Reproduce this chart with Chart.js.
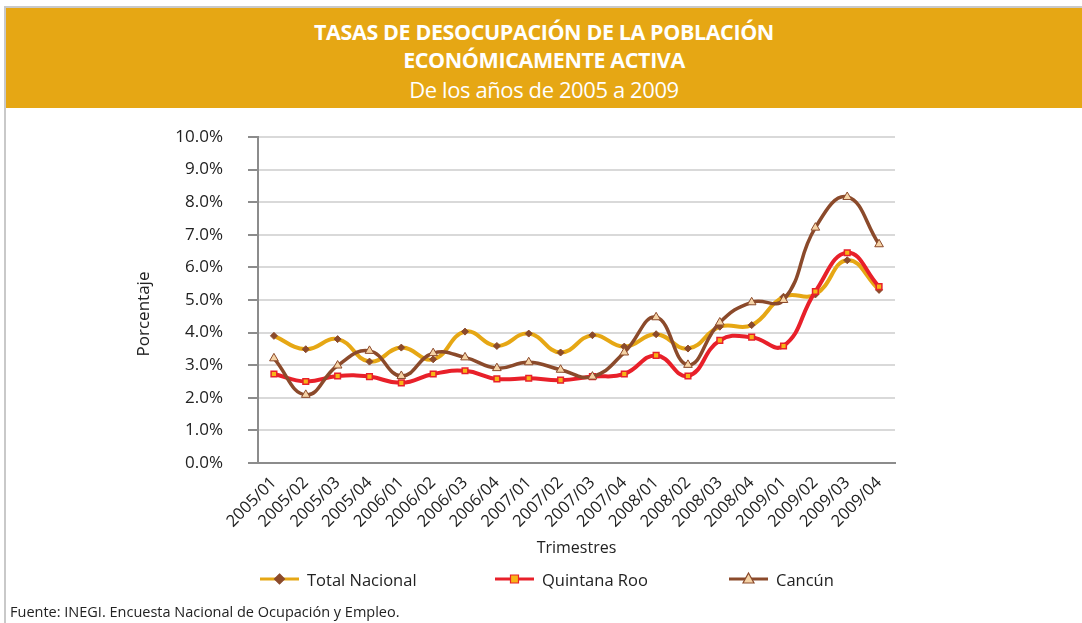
<!DOCTYPE html>
<html>
<head>
<meta charset="utf-8">
<script src="https://cdn.jsdelivr.net/npm/chart.js@4.4.1/dist/chart.umd.min.js"></script>
<style>
  html, body { margin:0; padding:0; background:#fff; }
  body { width:1082px; height:623px; position:relative; overflow:hidden; font-family:"Open Sans", sans-serif; }
  #frameTop { position:absolute; left:4px; top:6px; width:1078px; height:2px; background:#c9c9c9; }
  #frameLeft { position:absolute; left:4px; top:6px; width:2px; height:617px; background:#c9c9c9; }
  #header { position:absolute; left:6px; top:8px; width:1076px; height:100px; background:#E6A714; color:#fff; text-align:center; }
  #header .t1 { position:absolute; left:0; right:0; top:11px; font-weight:700; font-size:21.5px; line-height:26px; letter-spacing:-0.4px; }
  #header .t2 { position:absolute; left:0; right:0; top:39px; font-weight:700; font-size:21.5px; line-height:26px; letter-spacing:-0.4px; }
  #header .t3 { position:absolute; left:0; right:0; top:68px; font-weight:400; font-size:22px; line-height:26px; letter-spacing:-0.4px; }
  #wrap { position:absolute; left:0; top:0; width:1082px; height:622px; }
  #ytitle { position:absolute; left:43px; top:304px; width:200px; height:20px; line-height:20px; text-align:center; transform:rotate(-90deg); font-size:17px; color:#222; white-space:nowrap; }
  #legend { position:absolute; top:568px; left:0; width:1082px; height:22px; font-size:16.5px; color:#222; }
  .li { position:absolute; top:0; height:22px; display:flex; align-items:center; }
  .li canvas { margin-right:8px; }
  #foot { position:absolute; left:10px; top:602px; font-size:14.5px; color:#222; }
</style>
</head>
<body>
<div id="frameTop"></div>
<div id="frameLeft"></div>
<div id="header">
  <div class="t1">TASAS DE DESOCUPACIÓN DE LA POBLACIÓN</div>
  <div class="t2">ECONÓMICAMENTE ACTIVA</div>
  <div class="t3">De los años de 2005 a 2009</div>
</div>
<div id="wrap"><canvas id="c" width="1082" height="623"></canvas></div>
<div id="ytitle">Porcentaje</div>
<div id="legend"></div>
<div id="foot">Fuente: INEGI. Encuesta Nacional de Ocupación y Empleo.</div>
<script>
const categories = ["2005/01","2005/02","2005/03","2005/04","2006/01","2006/02","2006/03","2006/04",
  "2007/01","2007/02","2007/03","2007/04","2008/01","2008/02","2008/03","2008/04",
  "2009/01","2009/02","2009/03","2009/04"];
const totalNacional = [3.90,3.49,3.80,3.11,3.54,3.18,4.03,3.59,3.97,3.39,3.92,3.57,3.95,3.51,4.18,4.23,5.10,5.17,6.22,5.31];
const quintanaRoo   = [2.73,2.50,2.67,2.65,2.46,2.73,2.83,2.58,2.60,2.54,2.65,2.73,3.30,2.67,3.76,3.86,3.59,5.26,6.45,5.41];
const cancun        = [3.21,2.09,2.99,3.44,2.67,3.37,3.24,2.91,3.09,2.86,2.65,3.39,4.47,3.01,4.31,4.93,5.00,7.22,8.16,6.71];
const yTicks = [0,1,2,3,4,5,6,7,8,9,10];
const seriesNames = ["Total Nacional","Quintana Roo","Cancún"];

const GOLD = "#E6A714", RED = "#E8202A", BROWN = "#8B4A2B";

const datasets = [
  { label: seriesNames[0], data: totalNacional, borderColor: GOLD, borderWidth: 4,
    pointStyle: 'rectRot', pointRadius: 3.5, pointBackgroundColor: "#8B4A2B", pointBorderColor: "#8B4A2B", pointBorderWidth: 1,
    tension: 0.45, order: 3 },
  { label: seriesNames[1], data: quintanaRoo, borderColor: RED, borderWidth: 4,
    pointStyle: 'rect', pointRadius: 4, pointBackgroundColor: "#F7B417", pointBorderColor: RED, pointBorderWidth: 1.5,
    tension: 0.45, order: 2 },
  { label: seriesNames[2], data: cancun, borderColor: BROWN, borderWidth: 3.5,
    pointStyle: 'triangle', pointRadius: 5, pointBackgroundColor: "#F5D3A6", pointBorderColor: BROWN, pointBorderWidth: 1,
    tension: 0.45, order: 1 }
];

const FONT = "'Open Sans', sans-serif";
new Chart(document.getElementById('c'), {
  type: 'line',
  data: { labels: categories, datasets },
  options: {
    responsive: false, animation: false,
    layout: { padding: { left: 134.4, top: 137, right: 187, bottom: 65.4 } },
    plugins: { legend: { display: false }, tooltip: { enabled: false } },
    scales: {
      x: {
        offset: true,
        grid: { display: false },
        border: { display: true, color: '#8c8c8c', width: 2 },
        ticks: { minRotation: 45, maxRotation: 45, autoSkip: false, color: '#222', padding: 2,
                 font: { family: FONT, size: 16.5 } },
        title: { display: true, text: 'Trimestres', color: '#222', padding: 0, font: { family: FONT, size: 16 } },
        afterFit: s => { s.height = 94.6; }
      },
      y: {
        min: 0, max: 10,
        afterBuildTicks: s => { s.ticks = yTicks.map(v => ({ value: v })); },
        grid: { color: '#d9d9d9', lineWidth: 2, tickLength: 10, tickColor: '#8c8c8c', drawTicks: true },
        border: { display: true, color: '#8c8c8c', width: 2 },
        ticks: { color: '#222', padding: 25, font: { family: FONT, size: 17 },
                 callback: v => Number(v).toFixed(1) + '%' },
        title: { display: false },
        afterFit: s => { s.width = 123.6; }
      }
    }
  }
});

// HTML legend
const legendPos = [260, 495, 729];
const legend = document.getElementById('legend');
datasets.forEach((d, i) => {
  const item = document.createElement('div');
  item.className = 'li';
  item.style.left = legendPos[i] + 'px';
  const cv = document.createElement('canvas');
  cv.width = 39; cv.height = 16;
  const ctx = cv.getContext('2d');
  ctx.strokeStyle = d.borderColor; ctx.lineWidth = 3;
  ctx.beginPath(); ctx.moveTo(0, 8); ctx.lineTo(39, 8); ctx.stroke();
  ctx.fillStyle = d.pointBackgroundColor; ctx.strokeStyle = d.pointBorderColor; ctx.lineWidth = 1.2;
  ctx.beginPath();
  if (d.pointStyle === 'rectRot') { ctx.moveTo(19.5, 3); ctx.lineTo(24.5, 8); ctx.lineTo(19.5, 13); ctx.lineTo(14.5, 8); ctx.closePath(); }
  else if (d.pointStyle === 'rect') { ctx.rect(15.5, 4, 8, 8); }
  else { ctx.moveTo(19.5, 2); ctx.lineTo(25, 12); ctx.lineTo(14, 12); ctx.closePath(); }
  ctx.fill(); ctx.stroke();
  item.appendChild(cv);
  const sp = document.createElement('span');
  sp.textContent = d.label;
  item.appendChild(sp);
  legend.appendChild(item);
});
</script>
</body>
</html>
